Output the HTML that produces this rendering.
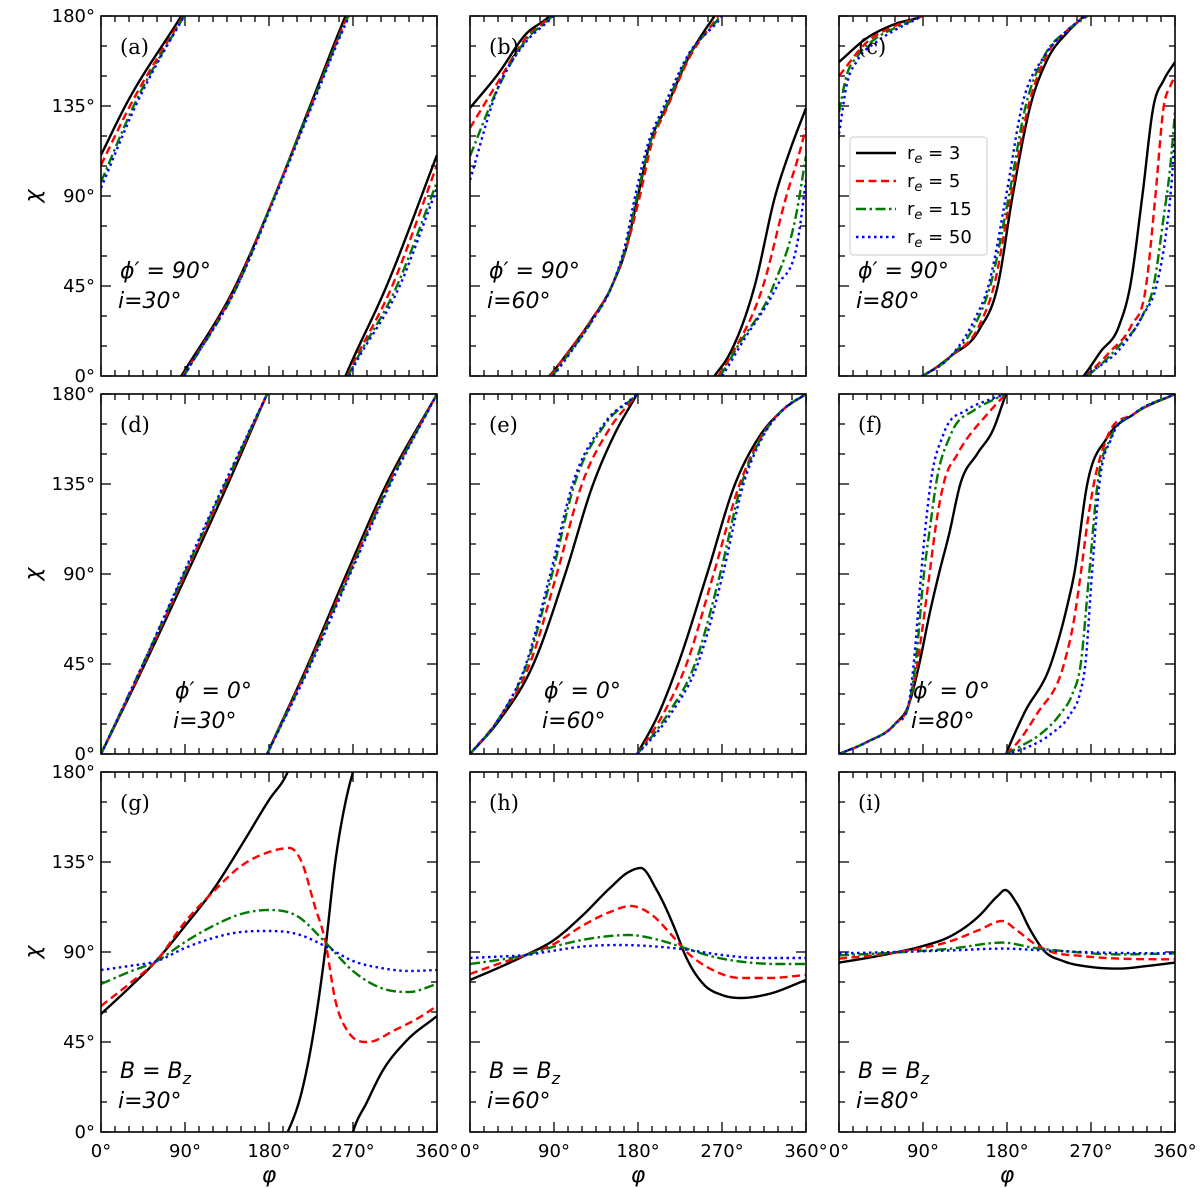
<!DOCTYPE html>
<html><head><meta charset="utf-8">
<style>
html,body{margin:0;padding:0;background:#fff;}
svg{display:block;}
text{font-family:"DejaVu Sans","Liberation Sans",sans-serif;}
</style></head>
<body>
<svg id="fig" width="1200" height="1188" viewBox="0 0 1200 1188" xmlns="http://www.w3.org/2000/svg"></svg>
<script>
// ---- data (phi in deg, chi in deg, unwrapped; drawn modulo 180) ----
const a_r3_phi=[0,26,86,144,186,224,262,306,360];
const a_r3_chi=[110.5,135,180,225,270,315,360,405,470.5];
const a_r5_phi=[0,31,88,145,186,225,264,312,360];
const a_r5_chi=[105.5,135,180,225,270,315,360,405,465.5];
const a_r15_phi=[0,35,89,146,186,225,265,317,360];
const a_r15_chi=[97,135,180,225,270,315,360,405,457];
const a_r50_phi=[0,37,89,146,187,226,266,320,360];
const a_r50_chi=[94,135,180,225,270,315,360,405,454];

const b_r3_phi=[0,30,60,85,102,130,152,168,180,192,211,235,262,277,305,327,343,360];
const b_r3_chi=[134,151,171,180,190,208,225,245,270,295,315,340,360,370,405,450,473,494];
const b_r5_phi=[0,30,60,86,102,130,152,168,182,194,212,236,266,282,314,339,352,360];
const b_r5_chi=[124,147,169,180,190,208,225,245,270,295,315,340,360,372,405,450,470,484];
const b_r15_phi=[0,30,60,88,104,130,152,167,179,192,210,234,268,287,325,350,360];
const b_r15_chi=[110,144,168,180,190,207,225,245,270,295,315,340,360,375,405,442,470];
const b_r50_phi=[0,30,60,89,105,130,152,166,177,190,208,233,270,292,329,352,360];
const b_r50_chi=[98,144,167,180,190,207,225,245,270,295,315,340,360,377,405,430,458];

const c_r3_phi=[0,30,60,89,120,150,170,186,205,223,245,262,280,300,312,325,337,348,360];
const c_r3_chi=[157,169,176,180,190,203,225,270,315,338,352,360,372,385,405,450,495,508,517];
const c_r5_phi=[0,30,60,89,120,150,166,184,203,222,245,264,290,313,329,339,348,355,360];
const c_r5_chi=[150,167,175,180,190,205,225,270,315,340,353,360,372,385,405,450,495,505,510];
const c_r15_phi=[0,8,20,40,60,89,120,145,162,182,200,220,245,266,300,325,337,348,355,360];
const c_r15_chi=[132,150,160,169,174,180,190,205,225,270,315,340,353,360,375,390,405,440,465,492];
const c_r50_phi=[0,8,20,40,60,89,120,145,160,179,196,220,245,270,300,325,340,350,356,360];
const c_r50_chi=[121,145,158,167,173,180,190,208,225,270,315,340,353,362,373,390,405,430,455,481];

const d_r3_phi=[0,47,92,136,178,222,263,306,360];
const d_r3_chi=[0,45,90,135,180,225,270,315,360];
const d_r5_phi=[0,46,90,134,178,223,265,308,360];
const d_r5_chi=[0,45,90,135,180,225,270,315,360];
const d_r15_phi=[0,45,89,133,178,224,266,309,360];
const d_r15_chi=[0,45,90,135,180,225,270,315,360];
const d_r50_phi=[0,45,88,132,178,225,267,310,360];
const d_r50_chi=[0,45,90,135,180,225,270,315,360];

const e_r3_phi=[0,30,68,102,132,155,179,202,223,254,284,309,335,360];
const e_r3_chi=[0,16,45,90,135,160,180,200,225,270,315,338,352,360];
const e_r5_phi=[0,30,64,93,120,150,179,207,232,261,289,311,335,360];
const e_r5_chi=[0,17,45,90,135,163,180,200,225,270,315,338,352,360];
const e_r15_phi=[0,30,61,88,112,145,179,212,241,268,291,312,335,360];
const e_r15_chi=[0,17,45,90,135,165,180,200,225,270,315,338,352,360];
const e_r50_phi=[0,30,60,86,110,145,179,215,244,271,293,313,335,360];
const e_r50_chi=[0,17,45,90,135,166,180,200,225,270,315,338,352,360];

const f_r3_phi=[0,30,60,75,86,97,107,118,130,148,165,179,198,227,245,252,266,287,316,360];
const f_r3_chi=[0,6,15,25,45,70,90,110,135,150,162,180,200,225,255,270,315,338,350,360];
const f_r5_phi=[0,30,60,75,84,90,97,104,112,127,159,179,190,212,241,251,259,266,273,287,316,360];
const f_r5_chi=[0,6,15,25,45,65,90,115,135,150,170,180,185,200,225,245,270,295,315,338,350,360];
const f_r15_phi=[0,30,60,75,82,91,98,104,120,145,165,179,195,216,237,250,259,268,277,291,316,360];
const f_r15_chi=[0,6,15,25,45,90,115,135,160,172,177,180,184,190,200,210,225,270,315,338,350,360];
const f_r50_phi=[0,30,60,75,80,88,93,98,112,137,160,179,200,227,248,258,264,271,279,292,316,360];
const f_r50_chi=[0,6,15,26,45,90,115,135,160,172,177,180,183,190,200,210,225,270,315,338,350,360];

const g_r3_phi=[0,30,60,90,120,150,180,200,215,226,240,251,262,270,285,301,326,360];
const g_r3_chi=[59,72,86,103,121,143,166,180,200,225,270,315,345,360,375,390,405,418];
const g_r5_phi=[0,30,60,90,120,150,180,202,215,229,240,251,265,286,315,340,360];
const g_r5_chi=[63,74,86,105,120,133,140,142,135,113,96,66,50,45,51,57,63];
const g_r15_phi=[0,30,60,90,120,150,180,210,240,270,300,330,360];
const g_r15_chi=[74,80,85.5,95,103,109,111,108,95,80.5,72,70,74];
const g_r50_phi=[0,30,60,90,120,150,180,210,240,270,300,330,360];
const g_r50_chi=[81,83,85.5,92,97,100,100.5,99,93,85.5,82,80.5,81];

const h_r3_phi=[0,30,60,90,120,150,170,183,200,220,230,250,270,290,320,360];
const h_r3_chi=[76,82,88.5,96,108,122,130,132,121,101,89,74,68.5,67,69,76];
const h_r5_phi=[0,30,60,90,120,150,172,195,215,230,260,290,320,360];
const h_r5_chi=[79,84,88.5,94,103,110,113,108.5,99,91,81,77,77,78.5];
const h_r15_phi=[0,30,60,90,120,150,170,200,230,260,300,330,360];
const h_r15_chi=[84,86,88.5,92.7,96,98,98.5,96.3,92,87.7,84.7,84,84];
const h_r50_phi=[0,30,60,90,120,160,200,230,270,310,360];
const h_r50_chi=[87,87.7,88.5,90.7,92.7,93.5,92.7,91.3,88.5,87,87];

const i_r3_phi=[0,30,60,90,120,150,170,178,190,205,220,240,270,300,330,360];
const i_r3_chi=[84.7,87,89.7,93,98,108,118,121,114.7,101,90.5,85.5,82.5,81.7,83,84.7];
const i_r5_phi=[0,30,60,90,120,150,175,190,210,225,260,300,360];
const i_r5_chi=[86.7,88,89.7,92,95.5,101,105.5,101,94,90.5,88,86.7,86.3];
const i_r15_phi=[0,60,120,175,210,240,300,360];
const i_r15_chi=[88.3,89.7,91.7,94.7,92,90.5,88.8,89.3];
const i_r50_phi=[0,60,120,175,220,280,360];
const i_r50_chi=[89.3,90,90.8,91.7,90.8,89.7,89.3];

const xTickLabels=["0°","90°","180°","270°","360°"];
const yTickLabels=["0°","45°","90°","135°","180°"];
const legendLabels=["3","5","15","50"];

// ---- layout ----
const NS="http://www.w3.org/2000/svg";
const svg=document.getElementById('fig');
const COLS=[101,470,839], ROWS=[16,394,772], W=336, H=360;
const STY={
 r3:{c:"#000000",d:""},
 r5:{c:"#ff0000",d:"8,4.5"},
 r15:{c:"#007a00",d:"10,3.5,2.5,3.5"},
 r50:{c:"#0000ff",d:"2.5,3.5"}
};
const panels=[
 {id:'a',r:0,c:0,s:{r3:[a_r3_phi,a_r3_chi],r5:[a_r5_phi,a_r5_chi],r15:[a_r15_phi,a_r15_chi],r50:[a_r50_phi,a_r50_chi]},t1:"ϕ′ = 90°",t2:"i=30°",tx:19,ty:[262,292]},
 {id:'b',r:0,c:1,s:{r3:[b_r3_phi,b_r3_chi],r5:[b_r5_phi,b_r5_chi],r15:[b_r15_phi,b_r15_chi],r50:[b_r50_phi,b_r50_chi]},t1:"ϕ′ = 90°",t2:"i=60°",tx:19,ty:[262,292]},
 {id:'c',r:0,c:2,s:{r3:[c_r3_phi,c_r3_chi],r5:[c_r5_phi,c_r5_chi],r15:[c_r15_phi,c_r15_chi],r50:[c_r50_phi,c_r50_chi]},t1:"ϕ′ = 90°",t2:"i=80°",tx:19,ty:[262,292]},
 {id:'d',r:1,c:0,s:{r3:[d_r3_phi,d_r3_chi],r5:[d_r5_phi,d_r5_chi],r15:[d_r15_phi,d_r15_chi],r50:[d_r50_phi,d_r50_chi]},t1:"ϕ′ = 0°",t2:"i=30°",tx:74,ty:[304,334]},
 {id:'e',r:1,c:1,s:{r3:[e_r3_phi,e_r3_chi],r5:[e_r5_phi,e_r5_chi],r15:[e_r15_phi,e_r15_chi],r50:[e_r50_phi,e_r50_chi]},t1:"ϕ′ = 0°",t2:"i=60°",tx:74,ty:[304,334]},
 {id:'f',r:1,c:2,s:{r3:[f_r3_phi,f_r3_chi],r5:[f_r5_phi,f_r5_chi],r15:[f_r15_phi,f_r15_chi],r50:[f_r50_phi,f_r50_chi]},t1:"ϕ′ = 0°",t2:"i=80°",tx:74,ty:[304,334]},
 {id:'g',r:2,c:0,s:{r3:[g_r3_phi,g_r3_chi],r5:[g_r5_phi,g_r5_chi],r15:[g_r15_phi,g_r15_chi],r50:[g_r50_phi,g_r50_chi]},t1:"B",t2:"i=30°",tx:19,ty:[306,336]},
 {id:'h',r:2,c:1,s:{r3:[h_r3_phi,h_r3_chi],r5:[h_r5_phi,h_r5_chi],r15:[h_r15_phi,h_r15_chi],r50:[h_r50_phi,h_r50_chi]},t1:"B",t2:"i=60°",tx:19,ty:[306,336]},
 {id:'i',r:2,c:2,s:{r3:[i_r3_phi,i_r3_chi],r5:[i_r5_phi,i_r5_chi],r15:[i_r15_phi,i_r15_chi],r50:[i_r50_phi,i_r50_chi]},t1:"B",t2:"i=80°",tx:19,ty:[306,336]}
];

function mk(tag,attrs,parent){const e=document.createElementNS(NS,tag);for(const k in attrs)e.setAttribute(k,attrs[k]);(parent||svg).appendChild(e);return e;}

// smooth cubic Hermite with clamped three-point tangents
function mono(xs,ys){
 const n=xs.length,d=[],m=new Array(n);
 for(let k=0;k<n-1;k++)d.push((ys[k+1]-ys[k])/(xs[k+1]-xs[k]));
 m[0]=d[0];m[n-1]=d[n-2];
 for(let k=1;k<n-1;k++){
  if(d[k-1]*d[k]<=0){m[k]=0;continue;}
  const h0=xs[k]-xs[k-1],h1=xs[k+1]-xs[k];
  let t=(h1*d[k-1]+h0*d[k])/(h0+h1);
  const lim=3*Math.min(Math.abs(d[k-1]),Math.abs(d[k]));
  if(Math.abs(t)>lim)t=Math.sign(t)*lim;
  m[k]=t;
 }
 return function(x){
  let k=0;while(k<n-2&&x>xs[k+1])k++;
  const h=xs[k+1]-xs[k],t=(x-xs[k])/h,t2=t*t,t3=t2*t;
  return (2*t3-3*t2+1)*ys[k]+(t3-2*t2+t)*h*m[k]+(-2*t3+3*t2)*ys[k+1]+(t3-t2)*h*m[k+1];
 };
}

panels.forEach(p=>{
 const L=COLS[p.c],T=ROWS[p.r];
 const xS=v=>L+v*W/360, yS=v=>T+H-v*H/180;
 const g=mk('g',{});
 
 
 const cp=mk('clipPath',{id:'clip'+p.id},g);
 mk('rect',{x:L,y:T,width:W,height:H},cp);
 const tk=mk('g',{stroke:'#000','stroke-width':1.3},g);
 
 
 for(let v=0;v<=360;v+=15){const len=(v%90===0)?10:6;const x=xS(v);
  mk('line',{x1:x,y1:T+H,x2:x,y2:T+H-len},tk);mk('line',{x1:x,y1:T,x2:x,y2:T+len},tk);}
 for(let v=0;v<=180;v+=15){const len=(v%45===0)?10:6;const y=yS(v);
  mk('line',{x1:L,y1:y,x2:L+len,y2:y},tk);mk('line',{x1:L+W,y1:y,x2:L+W-len,y2:y},tk);}
 const lines=mk('g',{'clip-path':'url(#clip'+p.id+')',fill:'none','stroke-width':2.4},g);
 ['r3','r5','r15','r50'].forEach(key=>{
  const xs=p.s[key][0],ys=p.s[key][1],f=mono(xs,ys);
  const pts=[];for(let x=xs[0];x<=xs[xs.length-1]+1e-9;x+=0.5)pts.push([x,f(x)]);
  const segs=[];let cur=[];
  let kcur=Math.floor(((pts[0][1]+pts[1][1])/2)/180);
  cur.push([pts[0][0],pts[0][1]-180*kcur]);
  for(let j=1;j<pts.length;j++){
   const a=pts[j-1],b=pts[j];
   const km=Math.floor(((a[1]+b[1])/2)/180);
   if(km!==kcur){
    const bd=180*Math.max(km,kcur);
    const t=(b[1]===a[1])?0:(bd-a[1])/(b[1]-a[1]);
    const xc=a[0]+t*(b[0]-a[0]);
    cur.push([xc,bd-180*kcur]);segs.push(cur);
    cur=[[xc,bd-180*km]];kcur=km;
   }
   cur.push([b[0],b[1]-180*kcur]);
  }
  segs.push(cur);
  let dstr='';
  segs.forEach(s=>{s.forEach((q,i)=>{dstr+=(i?'L':'M')+xS(q[0]).toFixed(2)+','+yS(q[1]).toFixed(2);});});
  const path=mk('path',{d:dstr,stroke:STY[key].c},lines);
  if(STY[key].d)path.setAttribute('stroke-dasharray',STY[key].d);
  
  
 });
 const fr=mk('rect',{x:L,y:T,width:W,height:H,fill:'none',stroke:'#000','stroke-width':1.6},g);
 
 
 const lb=mk('text',{x:L+19,y:T+38,'font-size':21,style:'font-family:"DejaVu Serif","Liberation Serif",serif'},g);
 lb.textContent='('+p.id+')';
 
 
 const t1=mk('text',{x:L+p.tx,y:T+p.ty[0],'font-size':22,'font-style':'italic'},g);
 
 
 if(p.t1==='B'){
  t1.innerHTML='B = B<tspan font-size="16" dy="6">z</tspan>';
 } else t1.textContent=p.t1;
 const t2=mk('text',{x:L+p.tx-2,y:T+p.ty[1],'font-size':22,'font-style':'italic'},g);
 t2.textContent=p.t2;
 
 
 if(p.c===0){
  yTickLabels.forEach((s,j)=>{const t=mk('text',{x:L-6,y:yS(j*45)+6,'font-size':18,'text-anchor':'end'},g);t.textContent=s;
   
   });
  const yl=mk('text',{x:34,y:T+H/2+6,'font-size':22,'font-style':'italic','text-anchor':'middle',transform:'rotate(-90 34 '+(T+H/2)+')'},g);
  yl.textContent='χ';
  
  
 }
 if(p.r===2){
  xTickLabels.forEach((s,j)=>{const t=mk('text',{x:xS(j*90),y:T+H+25,'font-size':18,'text-anchor':'middle'},g);t.textContent=s;
   
   });
  const xl=mk('text',{x:L+W/2,y:T+H+50,'font-size':22,'font-style':'italic','text-anchor':'middle'},g);
  xl.textContent='φ';
  
  
 }
});

const lg=mk('g',{});


mk('rect',{x:850,y:137,width:137,height:118,rx:3,fill:'#fff',stroke:'#cccccc','stroke-width':1},lg);
['r3','r5','r15','r50'].forEach((key,j)=>{
 const y=153+j*28;
 const ln=mk('line',{x1:856,y1:y,x2:896,y2:y,stroke:STY[key].c,'stroke-width':2.4},lg);
 if(STY[key].d)ln.setAttribute('stroke-dasharray',STY[key].d);
 
 
 const t=mk('text',{x:907,y:y+6,'font-size':18},lg);
 t.innerHTML='r<tspan font-size="13" font-style="italic" dy="4">e</tspan><tspan dy="-4"> = '+legendLabels[j]+'</tspan>';
 
 
});
</script>
</body></html>
